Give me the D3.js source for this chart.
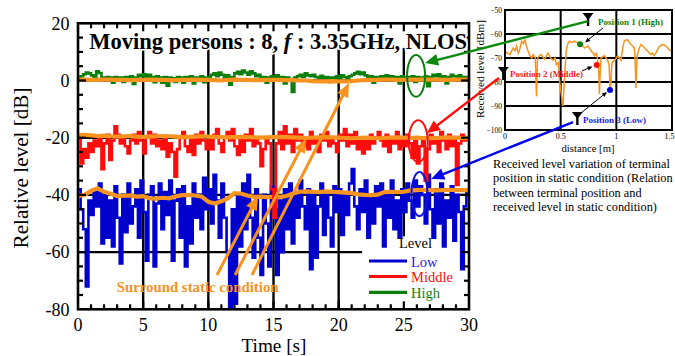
<!DOCTYPE html>
<html><head><meta charset="utf-8">
<script src="https://cdn.jsdelivr.net/npm/d3@7"></script>
<style>body{margin:0;background:#fff}svg{display:block}text{font-family:"Liberation Serif","Times New Roman",serif}</style>
</head><body><svg id="c" width="675" height="356"></svg>
<script>
// ---------------- data ----------------
const sampleStep = 0.2; // s
const highLevel = [
 1.0, 1.5, 2.2, 2.8, 2.5, 1.8, 1.2, 3.2, 2.6, 1.0,
 0.5, 1.2, 1.0, -0.8, 1.2, 0.8, 1.0, -0.5, 1.2, 0.9,
 1.5, -1.2, 1.0, 2.0, 1.5, 2.2, 1.0, 2.0, 1.2, -0.6,
 1.5, 1.0, -0.8, 1.2, -1.8, 1.0, 0.8, -0.5, 1.2, 1.0,
 -0.8, 1.2, 0.9, 1.5, -1.0, 1.0, 0.8, 1.5, -0.6, 1.0,
 1.2, 2.0, 2.5, 1.5, 2.8, 2.0, 1.0, 1.8, -1.5, 1.2,
 2.5, 3.0, 2.2, 3.5, 2.8, 2.0, 3.2, 2.5, 1.5, 2.0,
 1.0, 1.2, -0.8, 1.0, 1.5, 1.0, 1.8, 0.8, 1.2, -1.0,
 1.0, 0.5, -4.0, 1.0, 1.5, 2.0, 1.2, 2.5, 1.8, 1.5,
 2.0, 1.2, 1.0, 1.6, 1.0, 1.2, -0.5, 1.0, 0.8, 1.5,
 1.0, 1.8, 1.2, 1.0, 1.5, 2.0, 2.5, 3.0, 2.2, 2.8,
 1.8, 1.0, 1.5, -0.8, 1.2, 0.8, 1.5, 1.0, 1.8, 1.2,
 1.5, 0.8, 1.2, -1.0, 1.5, 1.0, 1.2, 0.8, 1.5, -0.5,
 1.2, 1.0, 0.5, 1.5, -2.0, 1.2, 2.0, 1.5, 2.2, 1.0,
 1.5, -1.0, 1.2, 2.0, 1.5, 1.0, 1.8, 1.2, 0.8, 1.2,
 1.0];
const middleLevel = [
 -20, -29, -24, -27, -22, -25, -21, -23, -20, -31,
 -22, -19, -27.8, -21, -16, -19, -22, -20, -23, -25.5,
 -21, -19, -22, -18, -21, -25.5, -20, -18, -22, -19,
 -23, -21, -24, -20, -26.6, -22, -25, -33.6, -24, -20,
 -18, -23, -25, -20, -26, -19, -22, -18, -21, -24,
 -20, -24, -19, -17, -22, -25, -20, -18, -21, -17,
 -23, -26, -20, -25, -19, -21, -17, -23, -20, -22,
 -30, -24, -20, -22, -38, -48, -22, -18, -24, -16,
 -22, -19, -25, -17, -21, -19, -23, -20, -24, -18,
 -22, -20, -25, -19, -21, -18, -23, -20, -22, -25,
 -19, -21, -17, -23, -19, -22, -18, -24, -20, -25.5,
 -21, -24, -19, -22, -20, -18, -21, -23, -19, -25,
 -20, -22, -18, -24, -20, -23, -19, -22, -27, -21,
 -29, -23, -20, -35, -24, -19, -22, -20, -25, -18,
 -21, -24, -19, -23, -20, -36.5, -22, -19, -21, -20,
 -20];
const lowLevel = [
 -38, -45, -52, -72, -42, -47, -38, -44, -36, -57,
 -40, -55, -42, -58, -37, -48, -64, -40, -53, -36,
 -50, -44, -38, -55, -35, -46, -63, -40, -37, -65,
 -43, -36, -52, -39, -47, -35, -63, -42, -38, -55,
 -37, -65, -44, -57, -36, -48, -40, -52, -34, -45,
 -38, -50, -33, -42, -55, -36, -48, -60, -80, -45,
 -78, -40, -58, -36, -52, -33, -48, -62, -38, -55,
 -68, -40, -50, -65, -37, -45, -68, -42, -60, -38,
 -52, -36, -57, -40, -48, -35, -44, -52, -38, -66,
 -40, -62, -44, -36, -54, -40, -48, -58, -37, -46,
 -38, -54, -40, -47, -36, -31, -44, -52, -38, -46,
 -35, -55, -40, -50, -37, -44, -36, -58, -40, -48,
 -35, -52, -42, -55, -38, -46, -36, -42, -48, -35,
 -44, -37, -40, -50, -33, -45, -55, -38, -50, -36,
 -58, -42, -48, -37, -56, -40, -46, -66, -44, -38,
 -40];
const staticStep = 0.5; // s
const highStatic = [
 0.3, 0.3, 0.2, 0.2, 0.3, 0.3, 0.2, 0.2, 0.1, 0.2,
 0.2, 0.3, 0.2, 0.2, 0.1, 0.1, 0.2, 0.2, 0.3, 0.2,
 0.2, 0.1, 0.0, 0.2, 0.3, 0.2, 0.2, 0.1, 0.1, 0.2,
 0.2, 0.2, 0.1, 0.1, 0.0, 0.0, -0.2, -0.3, -0.3, -0.2,
 -0.3, -0.3, -0.2, 0.0, 0.1, 0.2, 0.2, 0.3, 0.3, 0.2,
 0.2, 0.3, 0.3, 0.3, 0.3, 0.3, 0.2, 0.2, 0.3, 0.3,
 0.3];
const middleStatic = [
 -19.2, -19.0, -19.2, -19.4, -19.3, -19.5, -19.6, -19.5, -19.4, -19.6,
 -19.7, -19.6, -19.5, -19.4, -19.5, -19.6, -19.8, -19.7, -19.6, -19.5,
 -19.6, -19.7, -19.8, -19.9, -19.8, -19.7, -19.8, -19.9, -20.0, -19.9,
 -19.8, -19.7, -19.8, -19.9, -20.0, -20.1, -20.0, -19.9, -19.8, -19.9,
 -20.0, -20.1, -20.2, -20.1, -20.0, -20.1, -20.2, -20.1, -20.0, -19.9,
 -20.0, -20.1, -20.0, -20.1, -20.2, -20.1, -20.0, -19.9, -20.0, -20.1,
 -20.0];
const lowStatic = [
 -40.4, -40.0, -38.6, -37.7, -38.9, -39.6, -40.4, -40.3, -40.2, -40.6,
 -40.4, -41.2, -41.3, -41.0, -41.2, -40.5, -40.1, -40.0, -40.2, -40.6,
 -42.4, -43.0, -42.2, -41.2, -39.4, -39.5, -40.2, -40.7, -40.6, -40.8,
 -40.7, -40.7, -40.4, -39.5, -38.9, -38.8, -38.9, -39.0, -38.8, -38.9,
 -39.0, -39.2, -39.4, -39.8, -40.0, -40.1, -39.9, -39.0, -38.9, -39.0,
 -38.9, -38.4, -38.3, -38.2, -38.3, -38.4, -38.3, -38.2, -38.3, -38.3,
 -38.3];
const timeTicks = [0, 5, 10, 15, 20, 25, 30];
const levelTicks = [20, 0, -20, -40, -60, -80];
const legendNames = ["Low", "Middle", "High"];

// inset: received level vs distance [m, dBm]
const insetProfile = [
 [0,-67],[0.02,-68],[0.045,-68.6],[0.06,-67],[0.074,-65.8],[0.09,-67],[0.104,-65],[0.119,-68],[0.135,-66],[0.149,-63],
 [0.165,-64],[0.179,-62.4],[0.193,-65],[0.21,-67.5],[0.223,-69],[0.24,-70],[0.253,-68.6],[0.272,-70],[0.283,-86],[0.292,-70],
 [0.31,-69],[0.327,-68.6],[0.345,-70],[0.357,-70.5],[0.372,-69],[0.387,-68],[0.41,-70],[0.432,-71],[0.45,-70],[0.461,-72.8],
 [0.478,-72],[0.491,-79.7],[0.505,-85],[0.521,-90],[0.536,-77],[0.551,-66.5],[0.565,-64],[0.58,-63],[0.6,-63.5],[0.625,-63],
 [0.645,-63.5],[0.67,-64.2],[0.69,-64.5],[0.714,-65.8],[0.73,-65.5],[0.744,-65],[0.76,-66],[0.774,-67],[0.79,-68],[0.804,-69],
 [0.818,-68],[0.83,-70],[0.842,-75.5],[0.848,-85],[0.855,-76],[0.863,-70],[0.878,-69.5],[0.893,-69],[0.908,-70],[0.923,-71],
 [0.935,-73],[0.945,-84],[0.952,-80],[0.96,-72],[0.982,-71],[1.0,-70],[1.012,-69],[1.027,-70],[1.042,-71],[1.057,-66],
 [1.071,-63],[1.086,-62.5],[1.101,-62.4],[1.116,-63.5],[1.131,-64.4],[1.146,-65],[1.161,-65.8],[1.168,-70],[1.176,-82.5],[1.183,-72],
 [1.19,-68.6],[1.205,-66],[1.22,-64.4],[1.24,-65],[1.265,-66.5],[1.29,-67.5],[1.31,-68.6],[1.325,-68],[1.339,-69],[1.355,-68],
 [1.369,-66.5],[1.39,-65],[1.414,-64.4],[1.43,-64.5],[1.443,-65],[1.465,-66],[1.488,-67],[1.5,-67.5]];
const insetDistTicks = [0, 0.5, 1, 1.5];
const insetDistLabels = ["0", "0.5", "1", "1.5"];
const insetLevelTicks = [-50, -60, -70, -80, -90, -100];
const positionPoints = [[0.674,-64.3],[0.824,-72.9],[0.943,-83.3]]; // High, Middle, Low
const positionNames = ["Position 1 (High)", "Position 2 (Middle)", "Position 3 (Low)"];
const captionLines = ["Received level variation of terminal","position in static condition (Relation","between terminal position and","received level in static condition)"];

// ---------------- drawing ----------------
const svg = d3.select("#c");
const COL = {high:"#0b7f0b", mid:"#ff0d0d", low:"#0000cc", orange:"#f7931e"};
const P = {l:78, r:469, t:23.3, b:309.3};
const x = d3.scaleLinear().domain([0,30]).range([P.l,P.r]);
const y = d3.scaleLinear().domain([-80,20]).range([P.b,P.t]);
const ix = d3.scaleLinear().domain([0,1.5]).range([505,672]);
const iy = d3.scaleLinear().domain([-100,-50]).range([130,10]);

function fit(sel,w){const l=sel.node().getComputedTextLength();const fs=parseFloat(sel.attr("font-size"));sel.attr("font-size",fs*w/l);return sel;}
function arrow(g,x1,y1,x2,y2,color,w,hl,hw){
  const a=Math.atan2(y2-y1,x2-x1), c=Math.cos(a), s=Math.sin(a);
  const bx=x2-hl*c, by=y2-hl*s;
  g.append("line").attr("x1",x1).attr("y1",y1).attr("x2",bx+2*c).attr("y2",by+2*s).attr("stroke",color).attr("stroke-width",w);
  g.append("path").attr("d",`M${x2},${y2}L${bx-hw*s},${by+hw*c}L${bx+hw*s},${by-hw*c}Z`).attr("fill",color);
}
function antenna(g,cx,top){
  g.append("path").attr("d",`M${cx-5.5},${top}L${cx+5.5},${top}L${cx},${top+7}Z`).attr("fill","#000");
  g.append("line").attr("x1",cx).attr("x2",cx).attr("y1",top).attr("y2",top+13).attr("stroke","#000").attr("stroke-width",2.4);
}

svg.append("rect").attr("width",675).attr("height",356).attr("fill","#fff");

// grid
const grid = svg.append("g").attr("stroke","#000").attr("stroke-width",2.4);
[5,10,15,20,25].forEach(t=>grid.append("line").attr("x1",x(t)).attr("x2",x(t)).attr("y1",P.t).attr("y2",P.b));
[0,-20,-40,-60].forEach(v=>grid.append("line").attr("x1",P.l).attr("x2",P.r).attr("y1",y(v)).attr("y2",y(v)));

// boxes that hide grid
svg.append("rect").attr("x",x(0.6)).attr("y",P.t).attr("width",x(29.6)-x(0.6)).attr("height",y(11.4)-P.t).attr("fill","#fff");
svg.append("rect").attr("x",x(21.8)).attr("y",y(-54.5)).attr("width",P.r-x(21.8)).attr("height",P.b-y(-54.5)).attr("fill","#fff");

// series
svg.append("clipPath").attr("id","pc").append("rect").attr("x",P.l).attr("y",P.t).attr("width",P.r-P.l).attr("height",P.b-P.t);
const dg = svg.append("g").attr("clip-path","url(#pc)");
const stepLine = d3.line().x((d,i)=>x(i*sampleStep)).y(d=>y(d)).curve(d3.curveStepAfter);
const statLine = d3.line().x((d,i)=>x(i*staticStep)).y(d=>y(d));
function series(arr,color){dg.append("path").datum(arr).attr("d",stepLine).attr("fill","none").attr("stroke",color).attr("stroke-width",2.6).attr("stroke-linejoin","miter");}
function stat(arr){dg.append("path").datum(arr).attr("d",statLine).attr("fill","none").attr("stroke",COL.orange).attr("stroke-width",4.2);}
series(lowLevel,COL.low); stat(lowStatic);
series(middleLevel,COL.mid); stat(middleStatic);
series(highLevel,COL.high); stat(highStatic);

// frame & ticks
const ax = svg.append("g").attr("stroke","#000");
ax.append("rect").attr("x",P.l).attr("y",P.t).attr("width",P.r-P.l).attr("height",P.b-P.t).attr("fill","none").attr("stroke-width",2.6);
d3.range(-75,20,5).forEach(v=>{const L=v%20===0?8:5;
  ax.append("line").attr("x1",P.l).attr("x2",P.l+L).attr("y1",y(v)).attr("y2",y(v)).attr("stroke-width",2.2);
  ax.append("line").attr("x1",P.r).attr("x2",P.r-L).attr("y1",y(v)).attr("y2",y(v)).attr("stroke-width",2.2);});
d3.range(1,30,1).forEach(t=>{const L=t%5===0?8:5;
  ax.append("line").attr("x1",x(t)).attr("x2",x(t)).attr("y1",P.b).attr("y2",P.b-L).attr("stroke-width",2.2);
  ax.append("line").attr("x1",x(t)).attr("x2",x(t)).attr("y1",P.t).attr("y2",P.t+L).attr("stroke-width",2.2);});

// tick labels
levelTicks.forEach(v=>svg.append("text").attr("x",69.5).attr("y",y(v)+6.3).attr("text-anchor","end").attr("font-size",18).text(v));
timeTicks.forEach(t=>svg.append("text").attr("x",x(t)).attr("y",331.2).attr("text-anchor","middle").attr("font-size",18).text(t));
fit(svg.append("text").attr("transform","translate(27.5,168) rotate(-90)").attr("text-anchor","middle").attr("font-size",20).text("Relative level [dB]"),161);
fit(svg.append("text").attr("x",274).attr("y",352).attr("text-anchor","middle").attr("font-size",20).text("Time [s]"),65);

// title
const title = svg.append("text").attr("x",89.3).attr("y",49).attr("font-size",21).attr("font-weight","bold")
  .attr("stroke","#fff").attr("stroke-width",3).attr("paint-order","stroke");
title.append("tspan").text("Moving persons : 8, ");
title.append("tspan").attr("font-style","italic").text("f");
title.append("tspan").text(" : 3.35GHz, NLOS");
fit(title,378);

// legend
const lg = svg.append("g");
lg.append("text").attr("x",399).attr("y",248).attr("font-size",14.5).attr("fill","#000").text("Level");
const legCols=[COL.low,COL.mid,COL.high], legY=[261,276.5,292.3];
legendNames.forEach((n,i)=>{
  lg.append("line").attr("x1",369).attr("x2",407).attr("y1",legY[i]).attr("y2",legY[i]).attr("stroke",legCols[i]).attr("stroke-width",3.2);
  lg.append("text").attr("x",411).attr("y",legY[i]+5.5).attr("font-size",14.5).attr("fill",i===0?"#2323dd":legCols[i]).text(n);
});

// ellipses
const an = svg.append("g").attr("fill","none").attr("stroke-width",2);
[[25.94,1.6,0.69,7.3,COL.high],[26.1,-21.2,0.73,7.3,COL.mid],[26.2,-39.7,0.61,7.7,"#1010e0"]].forEach(e=>{
  an.append("ellipse").attr("cx",x(e[0])).attr("cy",y(e[1])).attr("rx",x(e[2])-x(0)).attr("ry",y(0)-y(e[3])).attr("stroke",e[4]);});

// surround static arrows
const og = svg.append("g");
[[10.67,13.81,-40.4],[12.05,17.5,-20.3],[13.35,20.8,-0.9]].forEach(a=>arrow(og,x(a[0]),y(-68),x(a[1]),y(a[2]),COL.orange,3,14,6));
fit(og.append("text").attr("x",116.7).attr("y",291.5).attr("font-size",15).attr("font-weight","bold").attr("fill",COL.orange).text("Surround static condition"),162);

// ---------------- inset ----------------
const ig = svg.append("g");
ig.append("rect").attr("x",ix(0)).attr("y",iy(-50)).attr("width",ix(1.5)-ix(0)).attr("height",iy(-100)-iy(-50)).attr("fill","#fff");
const igr = ig.append("g").attr("stroke","#000").attr("stroke-width",2);
[0.5,1].forEach(d=>igr.append("line").attr("x1",ix(d)).attr("x2",ix(d)).attr("y1",iy(-50)).attr("y2",iy(-100)));
[-60,-70,-80,-90].forEach(v=>igr.append("line").attr("x1",ix(0)).attr("x2",ix(1.5)).attr("y1",iy(v)).attr("y2",iy(v)));
ig.append("path").datum(insetProfile).attr("d",d3.line().x(d=>ix(d[0])).y(d=>iy(d[1]))).attr("fill","none").attr("stroke",COL.orange).attr("stroke-width",1.5);
ig.append("rect").attr("x",ix(0)).attr("y",iy(-50)).attr("width",ix(1.5)-ix(0)).attr("height",iy(-100)-iy(-50)).attr("fill","none").attr("stroke","#000").attr("stroke-width",2);
insetLevelTicks.forEach(v=>ig.append("text").attr("x",502).attr("y",iy(v)+2.6).attr("text-anchor","end").attr("font-size",7.5).text("\u2212"+Math.abs(v)));
insetDistTicks.forEach((d,i)=>{const last=i===insetDistTicks.length-1;
  ig.append("text").attr("x",last?674.5:ix(d)).attr("y",138.5).attr("text-anchor",last?"end":"middle").attr("font-size",8).text(insetDistLabels[i]);});
fit(ig.append("text").attr("x",588).attr("y",152).attr("text-anchor","middle").attr("font-size",11).text("distance [m]"),53);
fit(ig.append("text").attr("transform","translate(484,69) rotate(-90)").attr("text-anchor","middle").attr("font-size",10.5).text("Received level [dBm]"),98);

const dotCols=[COL.high,COL.mid,"#0000dd"];
positionPoints.forEach((p,i)=>ig.append("circle").attr("cx",ix(p[0])).attr("cy",iy(p[1])).attr("r",3).attr("fill",dotCols[i]));
const labPos=[[0.836,-56.25,65],[0.045,-77.9,73],[0.70,-97.1,63]];
const labCols=[COL.high,"#ff1a1a","#1a1ad8"];
positionNames.forEach((n,i)=>fit(ig.append("text").attr("x",ix(labPos[i][0])).attr("y",iy(labPos[i][1])).attr("font-size",9).attr("font-weight","bold").attr("fill",labCols[i]).text(n),labPos[i][2]));
arrow(ig,ix(0.88),iy(-57.5),ix(0.719),iy(-63.5),"#000",1,5,2.2);
arrow(ig,ix(0.692),iy(-75.4),ix(0.786),iy(-73.5),"#000",1,5,2.2);
arrow(ig,ix(0.683),iy(-92.9),ix(0.916),iy(-84.2),"#000",1,5,2.2);

// cross arrows from antennas to ellipses
const cg = svg.append("g");
arrow(cg,ix(0.746),iy(-54.6),x(26.63),y(6.1),"#0b8a0b",2.4,13,6);
arrow(cg,ix(-0.054),iy(-78.3),x(26.78),y(-18.4),"#ff0d0d",2.4,13,6);
arrow(cg,ix(0.611),iy(-96.7),x(27.1),y(-34.4),"#0000ee",2.4,13,6);
antenna(ig,ix(0.746),iy(-51.25));
antenna(ig,ix(-0.015),iy(-73.75));
antenna(ig,ix(0.65),iy(-92.5));

// caption
const capY=[167.5,182.3,197,211];
const capFirst = fit(svg.append("text").attr("x",493).attr("y",capY[0]).attr("font-size",12).text(captionLines[0]),177);
const capFs = capFirst.attr("font-size");
captionLines.slice(1).forEach((t,i)=>svg.append("text").attr("x",493).attr("y",capY[i+1]).attr("font-size",capFs).text(t));
</script></body></html>
